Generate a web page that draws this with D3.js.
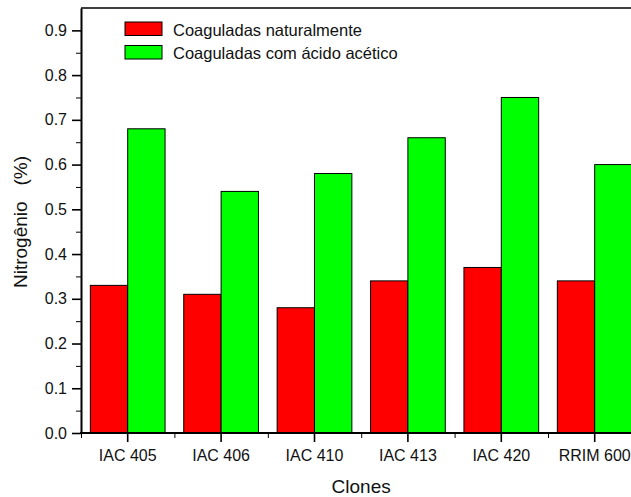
<!DOCTYPE html>
<html>

<head>
  <meta charset="UTF-8">
  <title>Nitrogênio por clone</title>
  <script src="https://d3js.org/d3.v7.min.js"></script>
  <style>
    body {
      margin: 0;
      padding: 0;
      background: white;
    }

    svg {
      display: block;
      font-family: "Liberation Sans", Arial, sans-serif;
    }

    .axis text {
      font-size: 16px;
      fill: #111;
    }

    .axis path,
    .axis line {
      stroke: #000;
    }

    .axis .domain {
      stroke-width: 2;
    }

    .axis-title {
      font-size: 19px;
      fill: #111;
    }

    .legend text {
      font-size: 16.5px;
      fill: #111;
    }
  </style>
</head>

<body>
  <svg id="chart" width="631" height="497"></svg>

  <script>
    // dados
    var clones = ["IAC 405", "IAC 406", "IAC 410", "IAC 413", "IAC 420", "RRIM 600"];
    var series = ["Coaguladas naturalmente", "Coaguladas com ácido acético"];
    var naturalmente = [0.33, 0.31, 0.28, 0.34, 0.37, 0.34];
    var acetico = [0.68, 0.54, 0.58, 0.66, 0.75, 0.60];
    var yTicks = [0.0, 0.1, 0.2, 0.3, 0.4, 0.5, 0.6, 0.7, 0.8, 0.9];
    var colors = ["#ff0000", "#00ff00"];

    var data = clones.map(function (c, i) {
      return { clone: c, values: [naturalmente[i], acetico[i]] };
    });

    // área do gráfico (window.top é reservado, por isso plotTop)
    var plotLeft = 81, plotTop = 8, plotBottom = 433;
    var step = 93.4;
    var plotRight = plotLeft + step * clones.length; // passa da borda, como no original

    var svg = d3.select("#chart");

    var x0 = d3.scaleBand()
      .domain(clones)
      .range([plotLeft, plotRight])
      .paddingInner(0.2)
      .paddingOuter(0.1);

    var x1 = d3.scaleBand()
      .domain(series)
      .range([0, x0.bandwidth()]);

    // escala contínua só para os ticks menores entre grupos
    var xl = d3.scaleLinear()
      .domain([0.5, clones.length + 0.5])
      .range([plotLeft, plotRight]);

    var y = d3.scaleLinear()
      .domain([0, 0.95])
      .range([plotBottom, plotTop]);

    var color = d3.scaleOrdinal().domain(series).range(colors);

    // barras
    var groups = svg.selectAll(".group")
      .data(data)
      .enter()
      .append("g")
      .attr("class", "group")
      .attr("transform", function (d) { return "translate(" + x0(d.clone) + ",0)"; });

    groups.selectAll("rect")
      .data(function (d) { return d.values.map(function (v, i) { return { key: series[i], value: v }; }); })
      .enter()
      .append("rect")
      .attr("x", function (d) { return x1(d.key); })
      .attr("y", function (d) { return y(d.value); })
      .attr("width", x1.bandwidth())
      .attr("height", function (d) { return plotBottom - y(d.value); })
      .attr("fill", function (d) { return color(d.key); })
      .attr("stroke", "#000")
      .attr("stroke-width", 1);

    // borda superior
    svg.append("line")
      .attr("x1", plotLeft).attr("x2", 631)
      .attr("y1", plotTop).attr("y2", plotTop)
      .attr("stroke", "#000")
      .attr("stroke-width", 1.6);

    // eixo y: ticks menores
    var minorY = d3.range(0.05, 0.95, 0.1);
    svg.append("g")
      .attr("class", "axis")
      .attr("transform", "translate(" + plotLeft + ",0)")
      .call(d3.axisLeft(y).tickValues(minorY).tickSize(5).tickFormat(""))
      .call(function (g) { g.select(".domain").remove(); });

    // eixo y
    svg.append("g")
      .attr("class", "axis")
      .attr("transform", "translate(" + plotLeft + ",0)")
      .call(d3.axisLeft(y).tickValues(yTicks).tickSize(9).tickSizeOuter(0).tickPadding(5).tickFormat(d3.format(".1f")))
      .call(function (g) { g.selectAll(".tick line").attr("stroke-width", 1.6); });

    // eixo x: ticks menores
    svg.append("g")
      .attr("class", "axis")
      .attr("transform", "translate(0," + plotBottom + ")")
      .call(d3.axisBottom(xl).tickValues(d3.range(0.5, clones.length + 1, 1)).tickSize(5).tickFormat(""))
      .call(function (g) { g.select(".domain").remove(); });

    // eixo x
    svg.append("g")
      .attr("class", "axis")
      .attr("transform", "translate(0," + plotBottom + ")")
      .call(d3.axisBottom(x0).tickSize(9).tickSizeOuter(0).tickPadding(8))
      .call(function (g) {
        g.select(".domain").attr("d", "M" + (plotLeft - 1) + ",0H" + plotRight);
        g.selectAll(".tick line").attr("stroke-width", 1.6);
      });

    // títulos dos eixos
    svg.append("text")
      .attr("class", "axis-title")
      .attr("x", (plotLeft + plotRight) / 2)
      .attr("y", 493)
      .attr("text-anchor", "middle")
      .text("Clones");

    svg.append("text")
      .attr("class", "axis-title")
      .attr("transform", "translate(27," + 222 + ") rotate(-90)")
      .attr("text-anchor", "middle")
      .style("white-space", "pre")
      .text("Nitrogênio   (%)");

    // legenda
    var legend = svg.append("g")
      .attr("class", "legend")
      .attr("transform", "translate(125,22)");

    var items = legend.selectAll("g")
      .data(series)
      .enter()
      .append("g")
      .attr("transform", function (d, i) { return "translate(0," + i * 23.5 + ")"; });

    items.append("rect")
      .attr("width", 37)
      .attr("height", 13.5)
      .attr("fill", function (d) { return color(d); })
      .attr("stroke", "#000")
      .attr("stroke-width", 1);

    items.append("text")
      .attr("x", 48)
      .attr("y", 13.5)
      .text(function (d) { return d; });
  </script>
</body>

</html>
